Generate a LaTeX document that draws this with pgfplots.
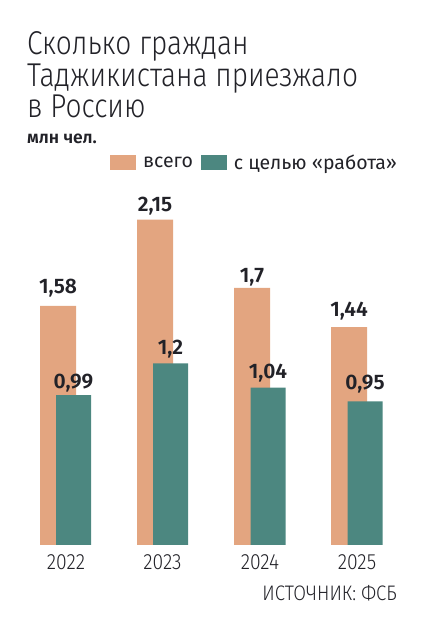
\documentclass[border=0pt]{standalone}
\usepackage{fontspec}
\setmainfont{Fira Sans}
\newfontfamily\lightfont{Fira Sans Light}[FakeStretch=0.85]
\newfontfamily\lightwide{Fira Sans Light}[FakeStretch=0.88]
\newfontfamily\semib{Fira Sans SemiBold}
\usepackage{pgfplots}
\pgfplotsset{compat=1.18}
\definecolor{orng}{RGB}{227,165,128}
\definecolor{tealc}{RGB}{76,135,128}
\definecolor{txt}{RGB}{34,34,40}
\pgfplotsset{sqlegend/.style={legend image code/.code={\fill[##1] (0pt,-7.5pt) rectangle (26pt,7.5pt);}}}
\begin{document}
\begin{tikzpicture}[x=1pt,y=1pt]
\path[use as bounding box] (0,0) rectangle (429,636);
\node[anchor=base west, font=\lightfont\fontsize{33}{33}\selectfont, text=txt, inner sep=0pt] at (27,581) {Сколько граждан};
\node[anchor=base west, font=\lightfont\fontsize{33}{33}\selectfont, text=txt, inner sep=0pt] at (27,549) {Таджикистана приезжало};
\node[anchor=base west, font=\lightfont\fontsize{33}{33}\selectfont, text=txt, inner sep=0pt] at (27,518) {в Россию};
\node[anchor=base west, font=\semib\fontsize{17.5}{17.5}\selectfont, text=txt, inner sep=0pt] at (27,492.5) {млн чел.};
\node[anchor=base east, font=\lightwide\fontsize{21}{21}\selectfont, text=txt, inner sep=0pt] at (397,35.3) {ИСТОЧНИК: ФСБ};
\begin{axis}[
  at={(0pt,91pt)}, anchor=south west,
  scale only axis, width=429pt, height=423.64pt,
  xmin=0, xmax=429, ymin=0, ymax=2.8,
  axis line style={draw=none},
  ytick=\empty,
  xtick={66,162.5,260,357},
  xticklabels={2022,2023,2024,2025},
  major tick length=0pt,
  xticklabel style={font=\lightwide\fontsize{22}{22}\selectfont, text=txt, anchor=base, inner sep=0pt, yshift=-24.5pt},
  clip=false,
  legend style={at={(axis cs:110,2.528)}, anchor=west, draw=none, fill=none, inner sep=0pt,
    font=\fontsize{19.5}{19.5}\selectfont, text=txt,
    /tikz/every odd column/.append style={column sep=5pt},
    /tikz/every even column/.append style={column sep=6pt},
    cells={anchor=west}},
  legend columns=2,
  /pgf/number format/.cd, use comma, assume math mode=true,
]
\addlegendimage{fill=orng, draw=none, sqlegend}
\addlegendimage{fill=tealc, draw=none, sqlegend}
\legend{всего, с целью «работа»}
\addplot[ybar, bar width=36pt, bar shift=0pt, fill=orng, draw=none,
  visualization depends on={\thisrow{off}\as\off},
  nodes near coords={\pgfmathprintnumber{\pgfplotspointmeta}},
  nodes near coords style={font=\semib\fontsize{21}{21}\selectfont, text=txt, anchor=base, inner sep=0pt, yshift=\off pt}]
  table[x=x, y=y] {
x   y    off
58  1.58 12.7
155 2.15 8.3
252 1.7  5.5
349 1.44 11
};
\addplot[ybar, bar width=35pt, bar shift=0pt, fill=tealc, draw=none,
  visualization depends on={\thisrow{off}\as\off},
  nodes near coords={\pgfmathprintnumber{\pgfplotspointmeta}},
  nodes near coords style={font=\semib\fontsize{21}{21}\selectfont, text=txt, anchor=base, inner sep=0pt, yshift=\off pt}]
  table[x=x, y=y] {
x     y    off
73.5  0.99 6.7
170.5 1.2  9
268   1.04 9.3
365   0.95 11.3
};
\end{axis}
\end{tikzpicture}
\end{document}
